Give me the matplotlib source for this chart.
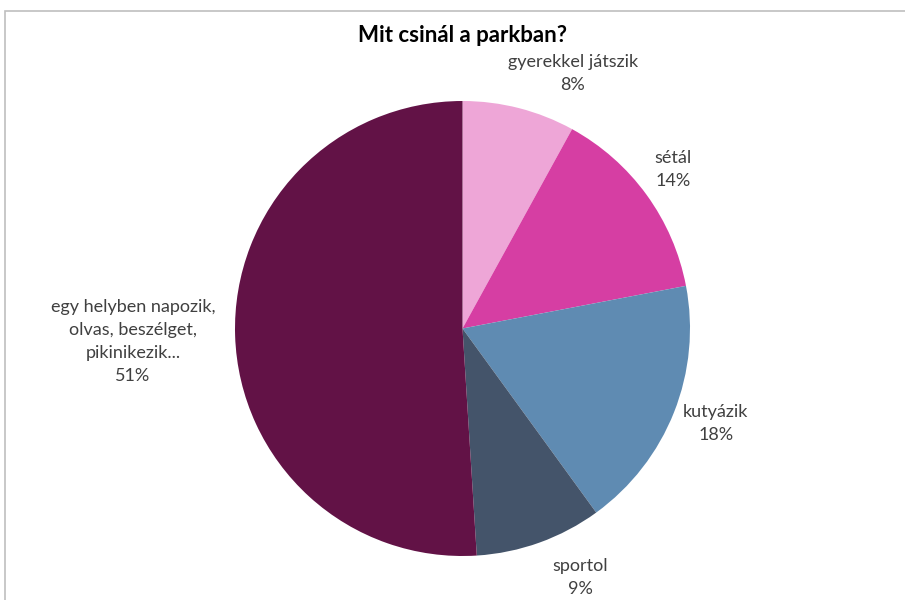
import numpy as np
import matplotlib
matplotlib.use("Agg")
import matplotlib.pyplot as plt
from matplotlib.patches import Rectangle

plt.rcParams['font.family'] = ['Lato', 'DejaVu Sans']

# data
labels = ["gyerekkel játszik", "sétál", "kutyázik", "sportol",
          "egy helyben napozik,\nolvas, beszélget,\npikinikezik..."]
values = [8, 14, 18, 9, 51]
colors = ["#EEA6D7", "#D63EA3", "#5F8BB2", "#44546A", "#621246"]

# label placement (distance in radii, angle nudge in degrees)
label_dist = [1.22, 1.16, 1.19, 1.21, 1.45]
label_nudge = [-9, 1, 1, 5.5, 0.5]

W, H = 905, 600
fig = plt.figure(figsize=(W / 100, H / 100), dpi=100)

# chart frame (cropped)
fig.patches.append(Rectangle((5 / W, -0.1), 1.1, (H - 11) / H + 0.1,
                             transform=fig.transFigure, fill=False,
                             edgecolor="#BFBFBF", linewidth=1.2))

cx, cy, r = 462.5, 600 - 328.5, 227.5
ax = fig.add_axes([(cx - r) / W, (cy - r) / H, 2 * r / W, 2 * r / H])
wedges, _ = ax.pie(values, colors=colors, startangle=90, counterclock=False,
                   radius=1, wedgeprops=dict(linewidth=0))
ax.set_xlim(-1, 1)
ax.set_ylim(-1, 1)
ax.set_aspect("equal")
ax.axis("off")

for w, lab, v, d, nd in zip(wedges, labels, values, label_dist, label_nudge):
    ang = np.deg2rad((w.theta1 + w.theta2) / 2 + nd)
    ax.text(d * np.cos(ang), d * np.sin(ang), f"{lab}\n{v}%",
            ha="center", va="center", fontsize=13, color="#404040",
            linespacing=1.55, clip_on=False)

fig.text(cx / W, 1 - 36 / H, "Mit csinál a parkban?", ha="center", va="center",
         fontsize=16, fontweight="bold", color="#000000")

fig.savefig("out.png", dpi=100, facecolor="white")
